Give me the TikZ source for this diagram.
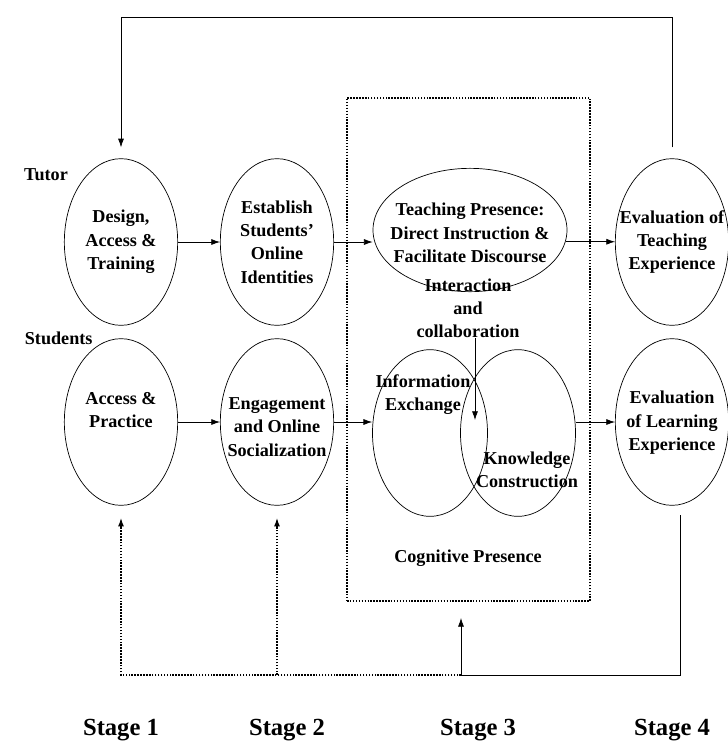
\documentclass[tikz,border=0pt]{standalone}
\usepackage{fontspec}
\setmainfont{Liberation Serif}
\usetikzlibrary{positioning,shapes.geometric,arrows.meta}

\tikzset{
  phase/.style={draw, ellipse, line width=0.6pt, minimum width=3.4cm, minimum height=5cm, inner sep=0pt},
  phasetext/.style={align=center, font=\bfseries\fontsize{15.5}{20}\selectfont, inner sep=0pt},
  stagetext/.style={font=\bfseries\fontsize{21}{24}\selectfont, inner sep=0pt},
  flow/.style={->, line width=0.6pt},
  dotline/.style={line width=1.4pt, dash pattern=on 1.3pt off 1.2pt},
  dotflow/.style={->, dotline},
}

\begin{document}
\begin{tikzpicture}[>={Latex[length=2.6mm,width=1.8mm]}]
      \useasboundingbox (0,0) rectangle (21.84,-22.53);

      % stage 3 frame
      \node[draw, dotline, minimum width=7.29cm, minimum height=15.09cm, inner sep=0pt] (PresenceBox) at (14.055,-10.485) {};

      \node[phase] (Design) at (3.63,-7.26) {};
      \node[on grid, right=4.68cm of Design, phase] (Establish) {};
      \node[on grid, right=11.85cm of Establish, phase] (EvalT) {};
      \node[phase, minimum width=5.82cm, minimum height=3.7cm] (Teaching) at (14.1,-6.9) {};
      \node[on grid, below=5.4cm of Design, phase] (Access) {};
      \node[on grid, right=4.68cm of Access, phase] (Engage) {};
      \node[on grid, below=5.4cm of EvalT, phase] (EvalL) {};
      \node[phase, minimum width=3.45cm] (Info) at (12.9,-12.99) {};
      \node[on grid, right=2.64cm of Info, phase, minimum width=3.45cm] (Know) {};

      \node[phasetext] (DesignT) at (Design) {Design,\\Access \&\\Training};
      \node[phasetext] (EstablishT) at (Establish) {Establish\\Students'\\Online\\Identities};
      \node[phasetext] (TeachingT) at ([yshift=-0.09cm]Teaching) {Teaching Presence:\\Direct Instruction \&\\Facilitate Discourse};
      \node[phasetext] (EvalTT) at (EvalT) {Evaluation of\\Teaching\\Experience};
      \node[phasetext] (AccessT) at ([yshift=0.36cm]Access) {Access \&\\Practice};
      \node[phasetext] (EngageT) at ([yshift=-0.15cm]Engage) {Engagement\\and Online\\Socialization};
      \node[phasetext] (EvalLT) at ([yshift=-0.03cm]EvalL) {Evaluation\\of Learning\\Experience};
      \node[phasetext] (InfoT) at (12.69,-11.84) {Information\\Exchange};
      \node[phasetext] (KnowT) at (15.81,-14.09) {Knowledge\\Construction};
      \node[phasetext] (Interact) at (14.04,-9.25) {Interaction\\and\\collaboration};
      \node[phasetext] (Cognitive) at (14.04,-16.74) {Cognitive Presence};

      \node[phasetext] (Tutor) at (1.38,-5.25) {Tutor};
      \node[phasetext] (Students) at (1.76,-10.14) {Students};

      \node[stagetext] (Stage1) at (3.63,-21.9) {Stage 1};
      \node[stagetext] (Stage2) at (8.61,-21.9) {Stage 2};
      \node[stagetext] (Stage3) at (14.34,-21.9) {Stage 3};
      \node[stagetext] (Stage4) at (20.16,-21.9) {Stage 4};

      % forward flow
      \draw[flow] (Design) -- (Establish);
      \draw[flow] (Establish) -- (Establish -| Teaching.west);
      \draw[flow] (Teaching.-7) -- (Teaching.-7 -| EvalT.west);
      \draw[flow] (Access) -- (Engage);
      \draw[flow] (Engage) -- (Engage -| Info.west);
      \draw[flow] (Know.east |- EvalL) -- (EvalL);
      \coordinate (Meet) at (14.25,-12.6);
      \draw[flow] (Interact.south -| Meet) -- (Meet);

      % feedback loops
      \coordinate (TopRail) at (0,-0.51);
      \coordinate (TeachOut) at ([yshift=0.33cm]EvalT.north);
      \draw[flow] (TeachOut) -- (TeachOut |- TopRail) -| ([yshift=0.33cm]Design.north);

      \coordinate (Base) at (13.83,-20.25);
      \coordinate (LearnOut) at (20.4,-15.45);
      \coordinate (BoxIn) at (13.83,-18.54);
      \draw[flow] (LearnOut) |- (Base) -- (BoxIn);
      \draw[dotflow] (Base) -| ([yshift=-0.36cm]Access.south);
      \draw[dotflow] (Base -| Engage.south) -- ([yshift=-0.36cm]Engage.south);
    \end{tikzpicture}
\end{document}
